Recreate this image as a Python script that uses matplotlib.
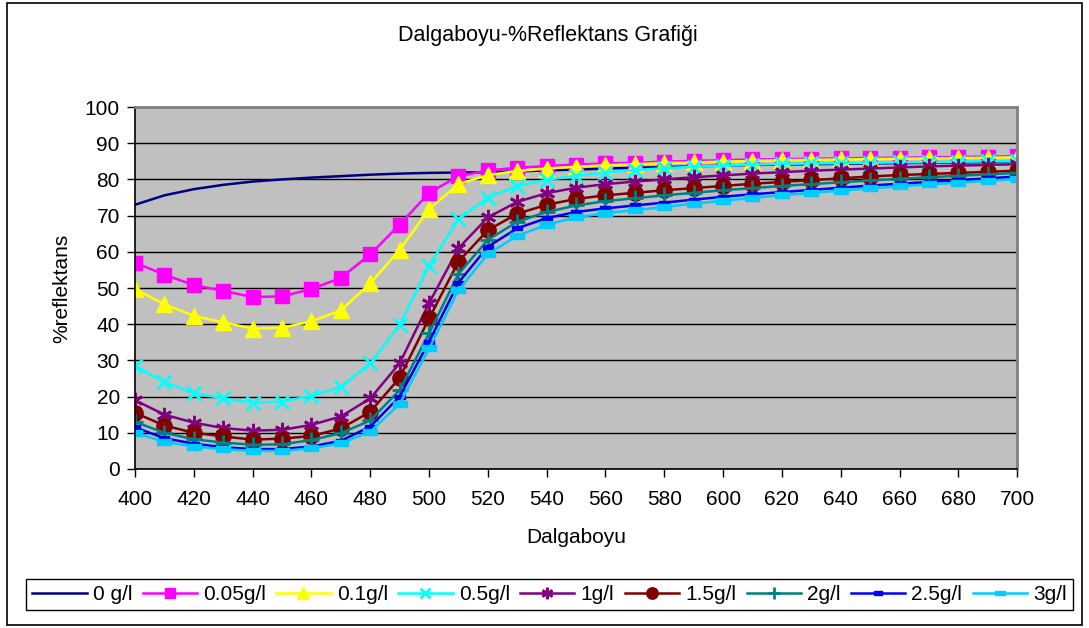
import matplotlib
matplotlib.use("Agg")
import matplotlib.pyplot as plt
from matplotlib.patches import Rectangle

plt.rcParams["font.family"] = ["Liberation Sans", "DejaVu Sans"]

# ── data ────────────────────────────────────────────────────────────────────
wavelength = list(range(400, 701, 10))

r_0 = [73.0, 75.6, 77.3, 78.5, 79.4, 80.0, 80.5, 80.9, 81.3, 81.6, 81.8,
       81.9, 82.0, 82.2, 82.5, 82.7, 83.0, 83.2, 83.4, 83.6, 83.8, 84.0,
       84.1, 84.2, 84.3, 84.4, 84.5, 84.6, 84.7, 84.8, 84.9]
r_005 = [57.0, 53.7, 50.8, 49.2, 47.5, 47.7, 49.7, 52.8, 59.3, 67.5, 76.3,
         80.9, 82.5, 83.2, 83.7, 84.1, 84.4, 84.6, 84.9, 85.1, 85.3, 85.5,
         85.6, 85.7, 85.8, 85.9, 86.0, 86.1, 86.2, 86.3, 86.4]
r_01 = [49.7, 45.5, 42.3, 40.5, 38.8, 39.0, 40.8, 43.8, 51.3, 60.5, 71.8,
        78.7, 81.2, 82.3, 83.0, 83.5, 83.9, 84.2, 84.5, 84.7, 84.9, 85.1,
        85.3, 85.4, 85.5, 85.6, 85.7, 85.8, 85.9, 86.0, 86.1]
r_05 = [28.5, 24.0, 21.0, 19.5, 18.3, 18.6, 20.2, 22.7, 29.2, 39.8, 56.2,
        69.0, 75.0, 78.2, 79.9, 81.0, 81.9, 82.6, 83.1, 83.5, 83.8, 84.1,
        84.3, 84.4, 84.5, 84.6, 84.7, 84.8, 84.9, 85.0, 85.0]
r_1 = [19.0, 15.0, 12.8, 11.3, 10.6, 10.8, 12.2, 14.5, 19.5, 29.2, 45.8,
       61.0, 69.5, 73.8, 76.2, 77.7, 78.7, 79.4, 80.0, 80.6, 81.1, 81.6,
       82.0, 82.4, 82.7, 83.0, 83.3, 83.6, 83.8, 84.0, 84.2]
r_15 = [15.5, 12.0, 10.0, 9.0, 8.1, 8.4, 9.1, 11.2, 15.8, 25.2, 41.6,
        57.3, 66.0, 70.5, 73.0, 74.6, 75.6, 76.3, 77.0, 77.6, 78.2, 78.8,
        79.3, 79.8, 80.3, 80.8, 81.2, 81.5, 81.8, 82.1, 82.4]
r_2 = [13.0, 10.0, 8.2, 7.3, 6.7, 6.8, 8.0, 9.9, 13.4, 21.8, 37.5,
       53.9, 63.3, 68.3, 71.0, 72.8, 74.0, 74.8, 75.6, 76.3, 77.0, 77.6,
       78.2, 78.7, 79.2, 79.7, 80.2, 80.6, 81.0, 81.4, 81.8]
r_25 = [11.5, 8.5, 7.0, 6.0, 5.5, 5.5, 6.2, 7.8, 11.7, 20.0, 35.2,
        51.5, 61.4, 66.5, 69.3, 71.0, 72.0, 72.8, 73.6, 74.4, 75.2, 75.9,
        76.5, 77.1, 77.7, 78.3, 78.8, 79.3, 79.8, 80.3, 80.8]
r_3 = [10.0, 7.5, 6.2, 5.5, 5.0, 5.0, 5.7, 7.1, 10.3, 18.0, 33.3,
       49.4, 59.4, 64.4, 67.5, 69.5, 70.7, 71.5, 72.4, 73.3, 74.1, 74.9,
       75.6, 76.3, 76.9, 77.5, 78.1, 78.6, 79.1, 79.6, 80.1]

labels = ["0 g/l", "0.05g/l", "0.1g/l", "0.5g/l", "1g/l",
          "1.5g/l", "2g/l", "2.5g/l", "3g/l"]
series = [r_0, r_005, r_01, r_05, r_1, r_15, r_2, r_25, r_3]

# ── styles (Excel 2003 palette) ─────────────────────────────────────────────
dash_small = [(-1, -0.45), (1, -0.45), (1, 0.45), (-1, 0.45), (-1, -0.45)]
styles = [
    dict(color="#000080", marker=None),
    dict(color="#FF00FF", marker="s", ms=10),
    dict(color="#FFFF00", marker="^", ms=11),
    dict(color="#00FFFF", marker="x", ms=10, mew=2),
    dict(color="#800080", marker=(6, 2, 0), ms=11, mew=2),
    dict(color="#800000", marker="o", ms=11),
    dict(color="#008080", marker="+", ms=11, mew=2),
    dict(color="#0000FF", marker=dash_small, ms=7),
    dict(color="#00CCFF", marker=dash_small, ms=10),
]

FS = 15

fig = plt.figure(figsize=(10.89, 6.28), dpi=100)
fig.patch.set_facecolor("white")
fig.add_artist(Rectangle((0.006, 0.004), 0.988, 0.992, transform=fig.transFigure,
                         fill=False, edgecolor="black", lw=1.2))

ax = fig.add_axes([0.124, 0.2532, 0.810, 0.5764])
ax.set_facecolor("#C0C0C0")

for vals, lab, st in zip(series, labels, styles):
    st = dict(st)
    color = st.pop("color")
    ax.plot(wavelength, vals, color=color, lw=1.8, label=lab,
            markerfacecolor=color, markeredgecolor=color, **st)

ax.set_xlim(400, 700)
ax.set_ylim(0, 100)
ax.set_xticks(range(400, 701, 20))
ax.set_yticks(range(0, 101, 10))
ax.grid(axis="y", color="black", lw=1)
ax.set_axisbelow(True)
ax.tick_params(direction="out", length=6, width=1, labelsize=FS, colors="black")
ax.tick_params(axis="x", pad=9)
ax.tick_params(axis="y", pad=5)
for side in ("top", "right"):
    ax.spines[side].set_color("#808080")
    ax.spines[side].set_linewidth(2)
for side in ("left", "bottom"):
    ax.spines[side].set_color("black")
    ax.spines[side].set_linewidth(1.2)

ax.set_xlabel("Dalgaboyu", fontsize=FS)
ax.xaxis.set_label_coords(0.5, -0.188)
ax.xaxis.label.set_va("center")
ax.set_ylabel("%reflektans", fontsize=FS)
ax.yaxis.set_label_coords(-0.083, 0.5)
ax.yaxis.label.set_va("center")
fig.text(0.503, 0.944, "Dalgaboyu-%Reflektans Grafiği", ha="center", va="center",
         fontsize=15.5)

leg = fig.legend(loc="center", bbox_to_anchor=(0.5046, 0.0533), ncol=9,
                 fontsize=FS, handlelength=2.6, handletextpad=0.3,
                 columnspacing=0.5, fancybox=False, edgecolor="black",
                 borderpad=0.3, borderaxespad=0, framealpha=1, markerscale=0.75)
leg.get_frame().set_linewidth(1)

fig.savefig("out.png", dpi=100)
